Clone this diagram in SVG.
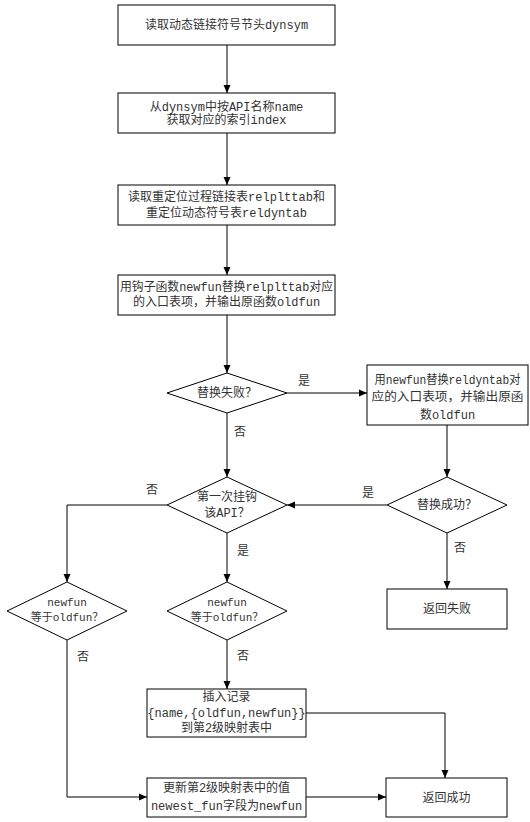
<svg xmlns="http://www.w3.org/2000/svg" width="530" height="822" viewBox="0 0 530 822">
<defs>
<marker id="ah" markerWidth="8" markerHeight="8" refX="8" refY="4" orient="auto" markerUnits="userSpaceOnUse">
<path d="M0,0.5 L8,4 L0,7.5 Z" fill="#000"/>
</marker>
<style>
.s{fill:#fff;stroke:#000;stroke-width:1}
.t{font-family:"Liberation Mono","Noto Sans CJK SC",monospace;font-size:12px;fill:#333;text-anchor:middle}
.sm{font-size:11px}
.c{fill:none;stroke:#000;stroke-width:1;marker-end:url(#ah)}
</style>
</defs>
<rect width="530" height="822" fill="#fff"/>
<g id="connectors">
<path class="c" d="M227,45 V93"/>
<path class="c" d="M227,133 V185"/>
<path class="c" d="M227,225 V275"/>
<path class="c" d="M227,315 V373"/>
<path class="c" d="M287,393 H367"/>
<path class="c" d="M227,413 V477"/>
<path class="c" d="M447,425 V477"/>
<path class="c" d="M387,505 H287"/>
<path class="c" d="M447,533 V589"/>
<path class="c" d="M167,505 H67 V582"/>
<path class="c" d="M227,533 V582"/>
<path class="c" d="M227,640 V689"/>
<path class="c" d="M67,640 V797 H147"/>
<path class="c" d="M306,713 H445 V778"/>
<path class="c" d="M306,797 H386"/>
<text class="t" x="304" y="385">是</text>
<text class="t" x="240" y="436">否</text>
<text class="t" x="368" y="497">是</text>
<text class="t" x="152" y="494">否</text>
<text class="t" x="243" y="555">是</text>
<text class="t" x="460" y="552">否</text>
<text class="t" x="83" y="661">否</text>
<text class="t" x="243" y="660">否</text>
</g>
<g id="n1"><rect class="s" x="118" y="5" width="217" height="40"/><text class="t" x="226.5" y="29">读取动态链接符号节头dynsym</text></g>
<g id="n2"><rect class="s" x="118" y="93" width="217" height="40"/><text class="t" x="226.5" y="110.5">从dynsym中按API名称name</text><text class="t" x="226.5" y="124">获取对应的索引index</text></g>
<g id="n3"><rect class="s" x="118" y="185" width="217" height="40"/><text class="t" x="226.5" y="201">读取重定位过程链接表relplttab和</text><text class="t" x="226.5" y="217">重定位动态符号表reldyntab</text></g>
<g id="n4"><rect class="s" x="118" y="275" width="217" height="40"/><text class="t" x="226.5" y="291" textLength="213" lengthAdjust="spacingAndGlyphs">用钩子函数newfun替换relplttab对应</text><text class="t" x="226.5" y="306">的入口表项，并输出原函数oldfun</text></g>
<g id="d1"><path class="s" d="M167,393 L227,373 L287,393 L227,413 Z"/><text class="t" x="227" y="397">替换失败？</text></g>
<g id="n5"><rect class="s" x="367" y="365" width="161" height="60"/><text class="t" x="447.5" y="384" textLength="146" lengthAdjust="spacingAndGlyphs">用newfun替换reldyntab对</text><text class="t" x="447.5" y="401" textLength="152" lengthAdjust="spacingAndGlyphs">应的入口表项，并输出原函</text><text class="t" x="447.5" y="419">数oldfun</text></g>
<g id="d3"><path class="s" d="M167,505 L227,477 L287,505 L227,533 Z"/><text class="t" x="227" y="501">第一次挂钩</text><text class="t" x="227" y="517">该API？</text></g>
<g id="d2"><path class="s" d="M387,505 L447,477 L507,505 L447,533 Z"/><text class="t" x="447" y="509">替换成功？</text></g>
<g id="d4"><path class="s" d="M7,611 L67,582 L127,611 L67,640 Z"/><text class="t sm" x="67" y="606">newfun</text><text class="t sm" x="67" y="621">等于oldfun？</text></g>
<g id="d5"><path class="s" d="M167,611 L227,582 L287,611 L227,640 Z"/><text class="t sm" x="227" y="606">newfun</text><text class="t sm" x="227" y="621">等于oldfun？</text></g>
<g id="n6"><rect class="s" x="387" y="589" width="120" height="40"/><text class="t" x="447" y="613">返回失败</text></g>
<g id="n7"><rect class="s" x="147" y="689" width="159" height="48"/><text class="t" x="226.5" y="701">插入记录</text><text class="t" x="226.5" y="717">{name,{oldfun,newfun}}</text><text class="t" x="226.5" y="732">到第2级映射表中</text></g>
<g id="n8"><rect class="s" x="147" y="778" width="159" height="39"/><text class="t" x="226.5" y="792">更新第2级映射表中的值</text><text class="t" x="226.5" y="810">newest_fun字段为newfun</text></g>
<g id="n9"><rect class="s" x="386" y="778" width="121" height="39"/><text class="t" x="446.5" y="802">返回成功</text></g>
</svg>
